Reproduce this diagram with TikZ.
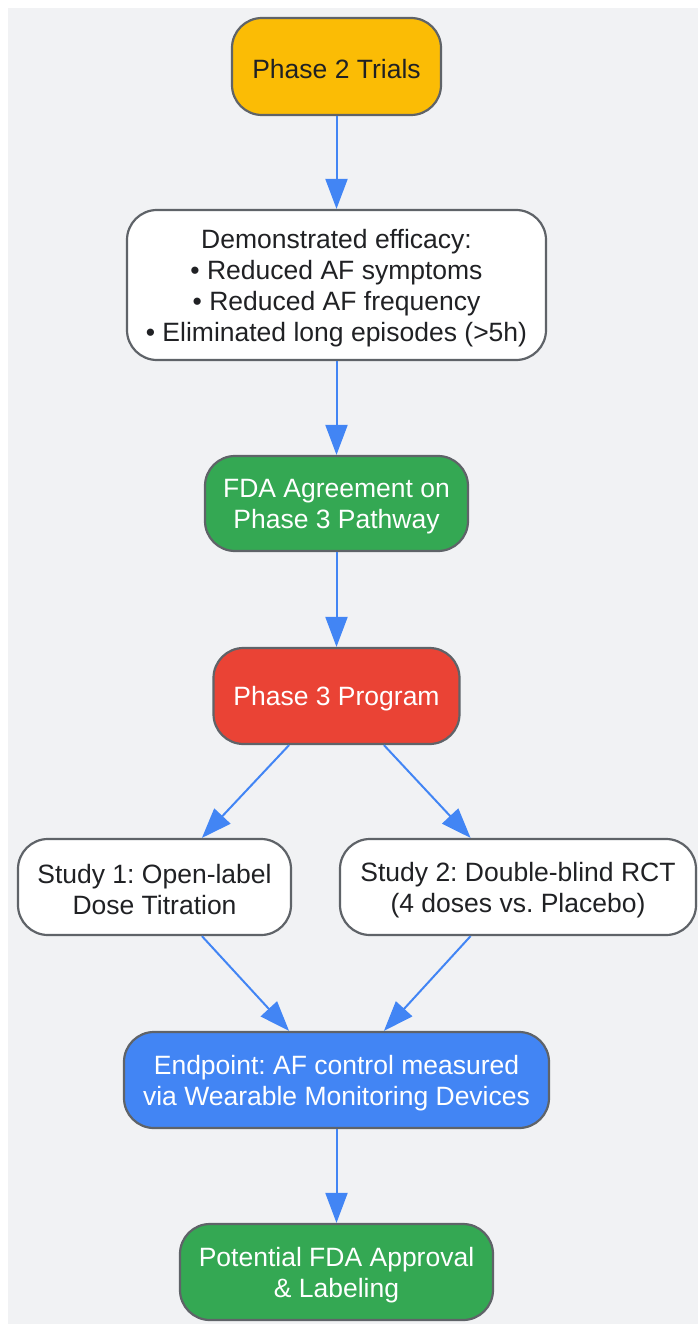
\documentclass[tikz,border=0pt]{standalone}
\usepackage{fontspec}
\setmainfont{Liberation Sans}
\usetikzlibrary{arrows.meta}
\definecolor{bggray}{HTML}{F1F2F4}
\definecolor{edgegray}{HTML}{5F6368}
\definecolor{txtdark}{HTML}{202124}
\definecolor{gyellow}{HTML}{FBBC05}
\definecolor{ggreen}{HTML}{34A853}
\definecolor{gred}{HTML}{EA4335}
\definecolor{gblue}{HTML}{4285F4}
\frenchspacing
% line box top as a browser sets it
\newcommand{\topstrut}{\rule{0pt}{25pt}}
\begin{document}
\begin{tikzpicture}[x=1pt,y=-1pt,
    box/.style={draw=edgegray,line width=2.2pt,rounded corners=30pt,align=center,
      inner sep=0pt,minimum height=96pt,text=txtdark,
      font=\fontsize{26.5}{31}\selectfont},
    darkbox/.style={box,text=white},
    flow/.style={gblue,line width=2pt,-{Triangle[length=30pt,width=22pt]}}]
    \path[use as bounding box] (0,0) rectangle (698,1324);
    \fill[bggray] (8,8) rectangle (698,1324);

    \node[box,fill=gyellow,minimum width=209pt,minimum height=97pt] (p2) at (336.5,66.5) {\topstrut Phase 2 Trials};
    \node[box,fill=white,minimum width=419pt,minimum height=150pt] (eff) at (336.5,285)
        {\topstrut Demonstrated efficacy:\\• Reduced AF symptoms\\• Reduced AF frequency\\• Eliminated long episodes (>5h)};
    \node[darkbox,fill=ggreen,minimum width=263pt,minimum height=95pt] (fda) at (336.5,503.5) {\topstrut FDA Agreement on\\Phase 3 Pathway};
    \node[darkbox,fill=gred,minimum width=246pt] (p3) at (336.5,696) {\topstrut Phase 3 Program};
    \node[box,fill=white,minimum width=273pt] (s1) at (154.5,887) {\topstrut Study 1: Open-label\\Dose Titration};
    \node[box,fill=white,minimum width=356pt] (s2) at (518,887) {\topstrut Study 2: Double-blind RCT\\(4 doses vs. Placebo)};
    \node[darkbox,fill=gblue,minimum width=425pt] (ep) at (336.5,1080) {\topstrut Endpoint: AF control measured\\via Wearable Monitoring Devices};
    \node[darkbox,fill=ggreen,minimum width=313pt] (appr) at (336.5,1272) {\topstrut Potential FDA Approval\\\& Labeling};

    \draw[flow] (p2) -- (eff);
    \draw[flow] (eff) -- (fda);
    \draw[flow] (fda) -- (p3);
    \draw[flow] (p3.-134) -- (s1.46);
    \draw[flow] (p3.-46) -- (s2.134);
    \draw[flow] (s1.-46) -- (ep.134);
    \draw[flow] (s2.-134) -- (ep.46);
    \draw[flow] (ep) -- (appr);
\end{tikzpicture}
\end{document}
